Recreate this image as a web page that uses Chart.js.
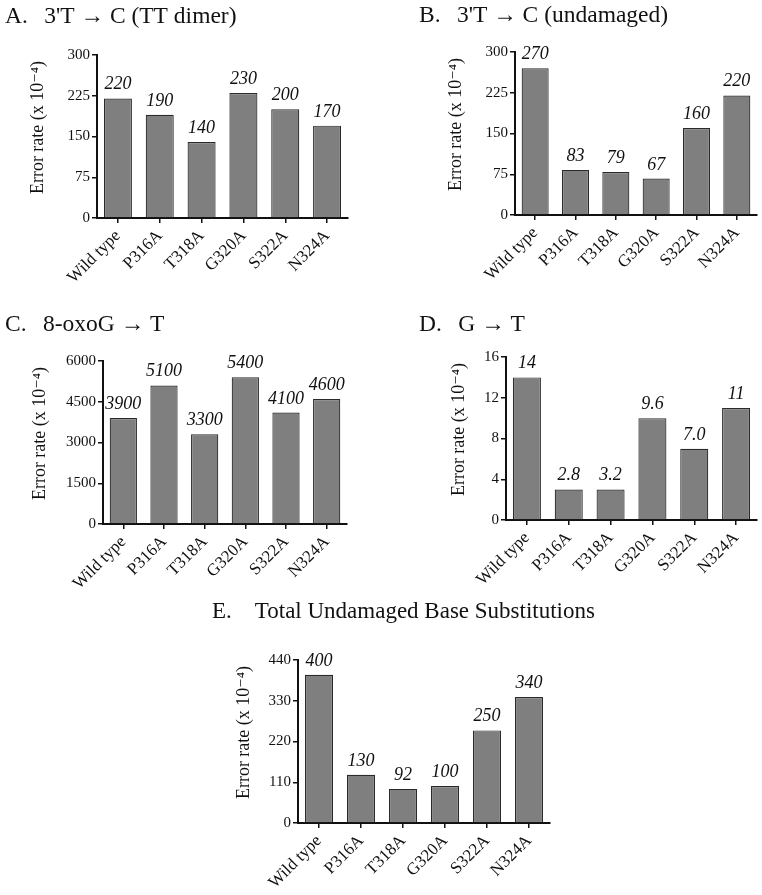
<!DOCTYPE html>
<html>
<head>
<meta charset="utf-8">
<script src="https://cdn.jsdelivr.net/npm/chart.js@4/dist/chart.umd.min.js"></script>
<style>
  body { margin: 0; background: #fff; }
  #page { position: relative; width: 762px; height: 895px; overflow: hidden; }
  canvas { position: absolute; }
</style>
</head>
<body>
<div id="page">
  <canvas id="chartA"></canvas>
  <canvas id="chartB"></canvas>
  <canvas id="chartC"></canvas>
  <canvas id="chartD"></canvas>
  <canvas id="chartE"></canvas>
</div>
<script>
// data
var categories = ["Wild type", "P316A", "T318A", "G320A", "S322A", "N324A"];

var dimerValues = [220, 190, 140, 230, 200, 170];
var dimerLabels = ["220", "190", "140", "230", "200", "170"];

var undamagedValues = [270, 83, 79, 67, 160, 220];
var undamagedLabels = ["270", "83", "79", "67", "160", "220"];

var oxoValues = [3900, 5100, 3300, 5400, 4100, 4600];
var oxoLabels = ["3900", "5100", "3300", "5400", "4100", "4600"];

var gtValues = [14, 3, 3, 10, 7, 11];
var gtLabels = ["14", "2.8", "3.2", "9.6", "7.0", "11"];

var totalValues = [400, 130, 92, 100, 250, 340];
var totalLabels = ["400", "130", "92", "100", "250", "340"];

// leading spaces lift the rotated label a little
var yLabel = "    Error rate (x 10\u207B\u2074)";
var serif = "'Liberation Serif', 'DejaVu Serif', serif";

// labels over the bars
var valueLabels = {
    id: "valueLabels",
    afterDatasetsDraw: function (chart, args, opts) {
        var ctx = chart.ctx;
        var meta = chart.getDatasetMeta(0);
        ctx.save();
        ctx.font = "italic 18px " + serif;
        ctx.fillStyle = "#111";
        ctx.textAlign = "center";
        ctx.textBaseline = "alphabetic";
        meta.data.forEach(function (bar, i) {
            ctx.fillText(opts.texts[i], bar.x, bar.y - 9);
        });
        ctx.restore();
    }
};

// panel heading, drawn at the top left of the canvas
var panelTitle = {
    id: "panelTitle",
    afterDraw: function (chart, args, opts) {
        var ctx = chart.ctx;
        ctx.save();
        ctx.font = opts.size + "px " + serif;
        ctx.fillStyle = "#111";
        ctx.textAlign = "left";
        ctx.textBaseline = "middle";
        ctx.fillText(opts.text, 0, opts.y);
        ctx.restore();
    }
};

// box = canvas on page, area = plot area on page
function makePanel(id, title, titleSize, values, texts, yMax, yStep, box, area, titleY, yTitleX) {
    var el = document.getElementById(id);
    el.style.left = box.x + "px";
    el.style.top = box.y + "px";
    el.width = box.w;
    el.height = box.h;

    var yLh = 18 * 1.2;

    new Chart(el, {
        type: "bar",
        data: {
            labels: categories,
            datasets: [{
                data: values,
                backgroundColor: "#7f7f7f",
                borderColor: "#2a2a2a",
                borderWidth: 1.2,
                borderSkipped: "bottom",
                categoryPercentage: 1,
                barPercentage: 0.67
            }]
        },
        options: {
            responsive: false,
            animation: false,
            events: [],
            layout: { padding: { left: 0, top: area.t - box.y, bottom: 0, right: (box.x + box.w) - area.r } },
            plugins: {
                legend: { display: false },
                tooltip: { enabled: false },
                title: { display: false },
                panelTitle: { text: title, size: titleSize, y: titleY - box.y },
                valueLabels: { texts: texts }
            },
            scales: {
                x: {
                    grid: { display: true, drawOnChartArea: false, offset: false, color: "#111", lineWidth: 1.5, tickLength: 5 },
                    border: { display: true, color: "#111", width: 2 },
                    ticks: {
                        color: "#111",
                        font: { family: serif, size: 17 },
                        maxRotation: 45,
                        minRotation: 45,
                        padding: 3
                    },
                    afterFit: function (s) { s.height = (box.y + box.h) - area.b; }
                },
                y: {
                    min: 0,
                    max: yMax,
                    grid: { display: true, drawOnChartArea: false, color: "#111", lineWidth: 1.5, tickLength: 5 },
                    border: { display: true, color: "#111", width: 2 },
                    ticks: {
                        stepSize: yStep,
                        color: "#111",
                        font: { family: serif, size: 15 },
                        padding: 2,
                        callback: function (v) { return String(v); }
                    },
                    title: {
                        display: true,
                        text: yLabel,
                        color: "#111",
                        font: { family: serif, size: 18 },
                        padding: { top: yTitleX - box.x - yLh / 2, bottom: 0 }
                    },
                    afterFit: function (s) { s.width = area.l - box.x; }
                }
            }
        },
        plugins: [valueLabels, panelTitle]
    });
}

makePanel("chartA", "A.\u2002\u20093'T \u2192 C (TT dimer)", 23.5, dimerValues, dimerLabels, 300, 75,
    { x: 5, y: 0, w: 372, h: 300 }, { l: 97, t: 55, r: 348, b: 218 }, 17, 38);

makePanel("chartB", "B.\u2002\u20093'T \u2192 C (undamaged)", 23.5, undamagedValues, undamagedLabels, 300, 75,
    { x: 419, y: 0, w: 343, h: 300 }, { l: 515, t: 52, r: 757, b: 215 }, 16, 456);

makePanel("chartC", "C.\u2002\u20098-oxoG \u2192 T", 23.5, oxoValues, oxoLabels, 6000, 1500,
    { x: 5, y: 300, w: 372, h: 292 }, { l: 103, t: 361, r: 347, b: 524 }, 325, 40);

makePanel("chartD", "D.\u2002\u2009G \u2192 T", 23.5, gtValues, gtLabels, 16, 4,
    { x: 419, y: 300, w: 343, h: 292 }, { l: 506, t: 357, r: 757, b: 520 }, 325, 459);

makePanel("chartE", "E.    Total Undamaged Base Substitutions", 23, totalValues, totalLabels, 440, 110,
    { x: 212, y: 590, w: 420, h: 305 }, { l: 298, t: 660, r: 550, b: 823 }, 612, 244);
</script>
</body>
</html>
